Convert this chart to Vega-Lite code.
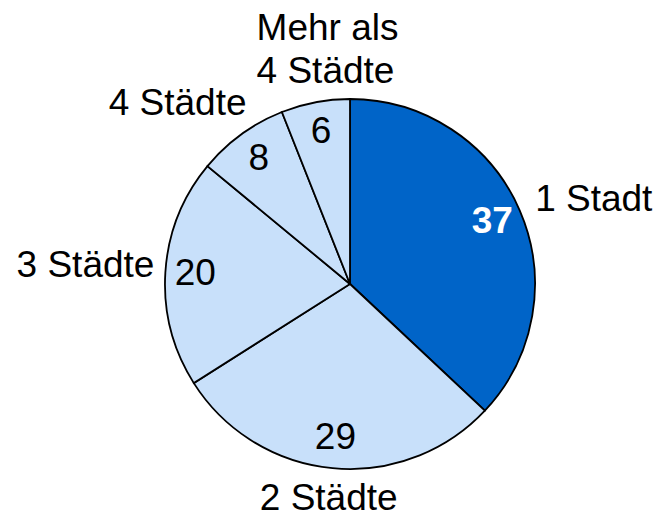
{
  "$schema": "https://vega.github.io/schema/vega-lite/v6.json",
  "width": 658,
  "height": 515,
  "autosize": "none",
  "padding": {"left": 21, "top": 26.5, "right": 0, "bottom": 0},
  "background": "white",
  "config": {"view": {"stroke": null}, "text": {"font": "Liberation Sans", "fontSize": 37}},
  "data": {
    "values": [
      {"Kategorie": "1 Stadt", "Label": "1 Stadt", "Anteil": 37},
      {"Kategorie": "2 Städte", "Label": "2 Städte", "Anteil": 29},
      {"Kategorie": "3 Städte", "Label": "3 Städte", "Anteil": 20},
      {"Kategorie": "4 Städte", "Label": "4 Städte", "Anteil": 8},
      {"Kategorie": "Mehr als 4 Städte", "Label": "Mehr als\n4 Städte", "Anteil": 6}
    ]
  },
  "encoding": {
    "theta": {"field": "Anteil", "type": "quantitative", "stack": true},
    "order": {"field": "Kategorie", "type": "nominal", "sort": "ascending"}
  },
  "layer": [
    {
      "mark": {"type": "arc", "outerRadius": 185, "stroke": "black", "strokeWidth": 1.8},
      "encoding": {
        "color": {
          "field": "Kategorie", "type": "nominal",
          "scale": {"domain": ["1 Stadt", "2 Städte", "3 Städte", "4 Städte", "Mehr als 4 Städte"],
                    "range": ["#0064C8", "#C8E0FA", "#C8E0FA", "#C8E0FA", "#C8E0FA"]},
          "legend": null
        }
      }
    },
    {
      "mark": {"type": "text", "radius": 155, "fill": "white", "fontWeight": "bold", "baseline": "middle", "align": "center"},
      "encoding": {
        "text": {"condition": {"test": "datum.Kategorie === '1 Stadt'", "field": "Anteil", "type": "quantitative"}, "value": ""}
      }
    },
    {
      "mark": {"type": "text", "radius": 155, "fill": "black", "baseline": "middle", "align": "center"},
      "encoding": {
        "text": {"condition": {"test": "datum.Kategorie !== '1 Stadt'", "field": "Anteil", "type": "quantitative"}, "value": ""}
      }
    },
    {
      "mark": {"type": "text", "radius": 205, "fill": "black", "baseline": "alphabetic", "align": "left", "dx": -3, "dy": 8},
      "encoding": {
        "text": {"condition": {"test": "datum.Kategorie === '1 Stadt'", "field": "Label", "type": "nominal"}, "value": ""}
      }
    },
    {
      "mark": {"type": "text", "radius": 205, "fill": "black", "baseline": "alphabetic", "align": "center", "dx": -2, "dy": 22},
      "encoding": {
        "text": {"condition": {"test": "datum.Kategorie === '2 Städte'", "field": "Label", "type": "nominal"}, "value": ""}
      }
    },
    {
      "mark": {"type": "text", "radius": 205, "fill": "black", "baseline": "alphabetic", "align": "right", "dx": 9, "dy": 6},
      "encoding": {
        "text": {"condition": {"test": "datum.Kategorie === '3 Städte'", "field": "Label", "type": "nominal"}, "value": ""}
      }
    },
    {
      "mark": {"type": "text", "radius": 205, "fill": "black", "baseline": "alphabetic", "align": "right", "dx": 17, "dy": -3},
      "encoding": {
        "text": {"condition": {"test": "datum.Kategorie === '4 Städte'", "field": "Label", "type": "nominal"}, "value": ""}
      }
    },
    {
      "mark": {"type": "text", "radius": 205, "fill": "black", "baseline": "alphabetic", "align": "left", "lineBreak": "\n", "lineHeight": 43, "dx": -55, "dy": -43},
      "encoding": {
        "text": {"condition": {"test": "datum.Kategorie === 'Mehr als 4 Städte'", "field": "Label", "type": "nominal"}, "value": ""}
      }
    }
  ]
}
